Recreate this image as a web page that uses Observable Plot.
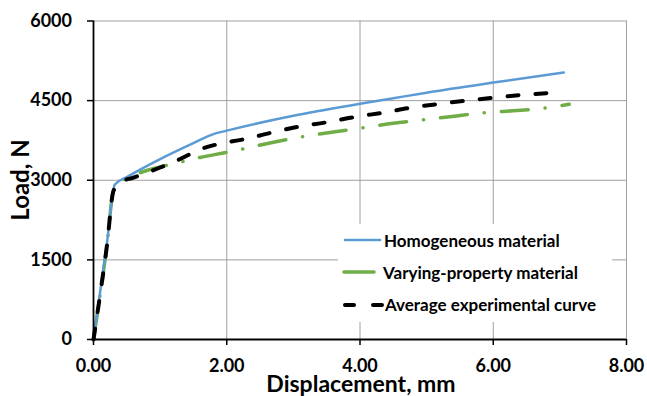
<!DOCTYPE html>
<html><head><meta charset="utf-8">
<script src="https://cdn.jsdelivr.net/npm/d3@7"></script>
<script src="https://cdn.jsdelivr.net/npm/@observablehq/plot@0.6"></script>
<style>
body{margin:0;background:#fff;}
#wrap{position:relative;width:647px;height:396px;font-family:Lato,"Open Sans",sans-serif;}
#wrap svg.over{position:absolute;left:0;top:0;pointer-events:none;}
</style></head><body>
<div id="wrap"></div>
<script>
// Homogeneous material (FE)
const homX = [0, 0.1, 0.2, 0.32, 0.5, 1.0, 1.5, 1.8, 2.0, 3.0, 4.0, 4.5, 5.0, 6.0, 7.06];
const homY = [0, 900, 1800, 2920, 3060, 3400, 3700, 3870, 3935, 4215, 4440, 4545, 4650, 4840, 5030];
// Varying-property material (FE)
const varX = [0, 0.1, 0.2, 0.3, 0.52, 0.74, 1.0, 1.4, 1.6, 2.0, 2.72, 3.17, 3.6, 4.0, 4.5, 4.98, 5.45, 5.89, 6.35, 6.8, 7.14];
const varY = [0, 850, 1750, 2800, 3050, 3160, 3250, 3370, 3430, 3525, 3720, 3828, 3910, 3980, 4073, 4143, 4212, 4275, 4313, 4365, 4430];
// Average experimental curve
const expX = [0, 0.1, 0.2, 0.3, 0.4, 0.6, 1.0, 1.3, 1.6, 1.9, 2.23, 2.65, 3.08, 3.5, 3.9, 4.38, 4.76, 5.2, 5.6, 6.0, 6.45, 6.98];
const expY = [0, 850, 1750, 2800, 2960, 3050, 3240, 3400, 3580, 3690, 3765, 3890, 4010, 4092, 4187, 4280, 4365, 4440, 4500, 4553, 4610, 4650];

const xTicks = [0, 2, 4, 6, 8];
const yTicks = [0, 1500, 3000, 4500, 6000];
const seriesNames = ["Homogeneous material", "Varying-property material", "Average experimental curve"];
const xTitle = "Displacement, mm";
const yTitle = "Load, N";

const toRows = (xs, ys) => xs.map((x, i) => ({x, y: ys[i]}));
const hom = toRows(homX, homY);
const vary = toRows(varX, varY);
const exp = toRows(expX, expY);

const plot = Plot.plot({
  width: 647, height: 396,
  marginLeft: 93, marginRight: 21, marginTop: 20.5, marginBottom: 57,
  x: {domain: [0, 8]},
  y: {domain: [0, 6000]},
  style: {fontFamily: "Lato, 'Open Sans', sans-serif", fontSize: "18px", fontWeight: "bold", color: "#000", background: "#fff", overflow: "visible"},
  marks: [
    Plot.gridX(xTicks, {stroke: "#a0a0a0", strokeOpacity: 1, strokeWidth: 1}),
    Plot.gridY(yTicks, {stroke: "#a0a0a0", strokeOpacity: 1, strokeWidth: 1}),
    Plot.line(vary, {x: "x", y: "y", stroke: "#70ad47", strokeWidth: 3.5, curve: "monotone-x", strokeLinecap: "round", strokeDasharray: "27,17,0.1,17"}),
    Plot.line(hom, {x: "x", y: "y", stroke: "#5b9bd5", strokeWidth: 2.5, curve: "monotone-x"}),
    Plot.line(exp, {x: "x", y: "y", stroke: "#000", strokeWidth: 4, curve: "monotone-x", strokeLinecap: "round", strokeDasharray: "11,17"}),
    Plot.ruleX([0], {stroke: "#000", strokeWidth: 1.8}),
    Plot.ruleY([0], {stroke: "#000", strokeWidth: 1.8}),
    Plot.axisX(xTicks, {tickSize: 6, tickPadding: 14, stroke: "#000", strokeWidth: 1.5, tickFormat: d => d.toFixed(2), label: null, fontSize: 18, fontWeight: "bold"}),
    Plot.axisY(yTicks, {tickSize: 6, tickPadding: 15.5, stroke: "#000", strokeWidth: 1.5, tickFormat: d => String(d), label: null, fontSize: 18, fontWeight: "bold"})
  ]
});
const wrap = document.getElementById("wrap");
wrap.appendChild(plot);

// Overlay: axis titles and legend
const ns = "http://www.w3.org/2000/svg";
const over = document.createElementNS(ns, "svg");
over.setAttribute("class", "over");
over.setAttribute("width", 647);
over.setAttribute("height", 396);
over.setAttribute("font-family", "Lato, 'Open Sans', sans-serif");
over.setAttribute("font-weight", "bold");
function el(tag, attrs, text) {
  const e = document.createElementNS(ns, tag);
  for (const k in attrs) e.setAttribute(k, attrs[k]);
  if (text != null) e.textContent = text;
  over.appendChild(e);
  return e;
}
el("text", {x: 361, y: 391.5, "text-anchor": "middle", "font-size": 23}, xTitle);
el("text", {transform: "translate(28.5,180) rotate(-90)", "text-anchor": "middle", "font-size": 24}, yTitle);

// legend
el("rect", {x: 338, y: 224, width: 274, height: 98, fill: "#fff"});
const legendStyles = [
  {stroke: "#5b9bd5", w: 2.5, dash: null, x1: 345, x2: 380, y: 240, tx: 384, ty: 246.5},
  {stroke: "#70ad47", w: 3.5, dash: null, x1: 344, x2: 374, y: 272, tx: 383, ty: 278.5},
  {stroke: "#000", w: 4, dash: "9,19", x1: 345, x2: 382, y: 305, tx: 385, ty: 311}
];
legendStyles.forEach((s, i) => {
  const a = {x1: s.x1, x2: s.x2, y1: s.y, y2: s.y, stroke: s.stroke, "stroke-width": s.w, "stroke-linecap": "round"};
  if (s.dash) a["stroke-dasharray"] = s.dash;
  el("line", a);
  el("text", {x: s.tx, y: s.ty, "font-size": 17}, seriesNames[i]);
});
wrap.appendChild(over);
</script>
</body></html>
